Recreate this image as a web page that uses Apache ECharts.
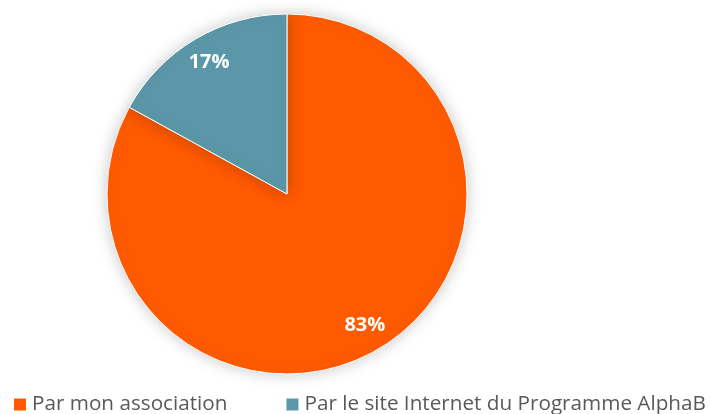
<!DOCTYPE html>
<html>
<head>
<meta charset="utf-8">
<script src="https://cdn.jsdelivr.net/npm/echarts@6/dist/echarts.min.js"></script>
<style>
  html, body { margin: 0; padding: 0; background: #fff; }
  #chart { width: 710px; height: 414px; }
</style>
</head>
<body>
<div id="chart"></div>
<script>
// données
var categories = ['Par mon association', 'Par le site Internet du Programme AlphaB'];
var values = [83, 17];
var colors = ['#FF5A00', '#5B97A8'];

var pieData = categories.map(function (c, i) {
  return { name: c, value: values[i], itemStyle: { color: colors[i] } };
});

var chart = echarts.init(document.getElementById('chart'));
var option = {
  animation: false,
  legend: {
    left: 14,
    top: 394,
    width: 696,
    padding: 0,
    itemWidth: 12,
    itemHeight: 12,
    itemGap: 59,
    icon: 'rect',
    itemStyle: { borderWidth: 0 },
    textStyle: { color: '#595959', fontSize: 20.7, fontFamily: 'Open Sans', padding: [0, 0, 0, 1] },
    data: categories
  },
  series: [
    {
      type: 'pie',
      center: [287, 194],
      radius: [0, 180],
      startAngle: 90,
      clockwise: true,
      label: { show: false },
      itemStyle: {
        borderColor: '#fff',
        borderWidth: 1,
        shadowBlur: 16,
        shadowColor: 'rgba(0,0,0,0.22)'
      },
      emphasis: { disabled: true },
      data: pieData
    },
    {
      // anneau invisible pour placer les étiquettes vers l'extérieur
      type: 'pie',
      center: [287, 194],
      radius: [120, 180],
      startAngle: 90,
      clockwise: true,
      silent: true,
      itemStyle: { color: 'transparent' },
      label: {
        show: true,
        position: 'inside',
        formatter: '{c}%',
        color: '#fff',
        fontSize: 20,
        fontWeight: 'bold',
        fontFamily: 'Open Sans'
      },
      labelLine: { show: false },
      data: values.map(function (v, i) { return { name: categories[i], value: v }; })
    }
  ]
};
chart.setOption(option);
</script>
</body>
</html>
